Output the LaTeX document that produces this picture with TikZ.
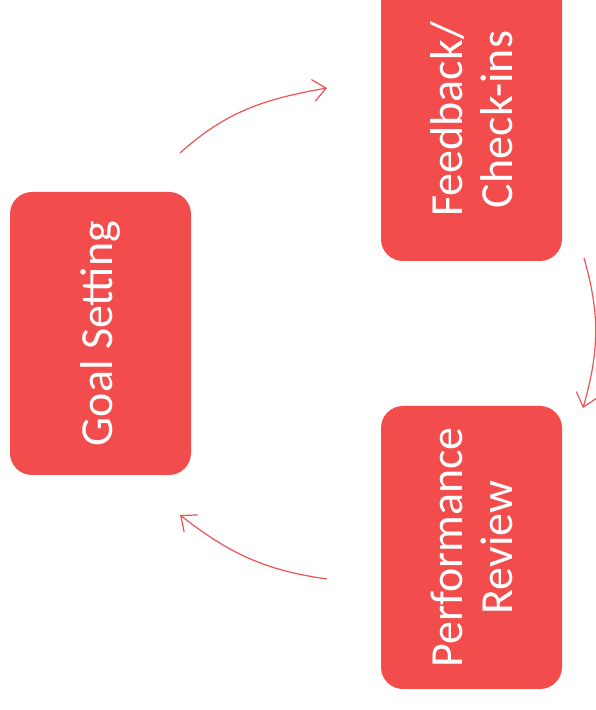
\documentclass[tikz,border=0pt]{standalone}
\usepackage{fontspec}
\setmainfont{Carlito}
\usetikzlibrary{arrows.meta,calc}
\definecolor{boxred}{RGB}{242,76,76}
\definecolor{arrowred}{RGB}{240,82,82}

\begin{document}
\begin{tikzpicture}[x=1pt,y=1pt,
  stage/.style={rotate=90, fill=boxred, rounded corners=22pt, minimum width=283pt, minimum height=181pt,
    inner sep=0pt, text=white, align=center, font=\fontsize{46}{50}\selectfont},
  flow/.style={draw=arrowred, line width=1.2pt, -{Straight Barb[length=13pt,width=22pt]}}]
%frame
\useasboundingbox (0,0) rectangle (596,710);
\clip (0,0) rectangle (596,710);

%stages
\node[stage] (goal) at (100.5,376.5) {Goal Setting};
\node[stage] (feed) at (471.5,590.5) {Feedback/\\Check-ins};
\node[stage] (perf) at (471.5,162.5) {Performance\\Review};

%arrow ends
\coordinate (goalout) at ($(goal)+(79.5,180.5)$);
\coordinate (feedin) at ($(feed)+(-144.5,31.5)$);
\coordinate (feedout) at ($(feed)+(112.5,-138.5)$);
\coordinate (perfin) at ($(perf)+(111.5,139.5)$);
\coordinate (perfout) at ($(perf)+(-144.5,-31.5)$);
\coordinate (goalin) at ($(goal)+(79.5,-181.5)$);

%cycle
\draw[flow] (goalout) to[out=42,in=190] (feedin);
\draw[flow] (feedout) to[out=-74,in=74] (perfin);
\draw[flow] (perfout) to[out=172,in=-38] (goalin);
\end{tikzpicture}
\end{document}
